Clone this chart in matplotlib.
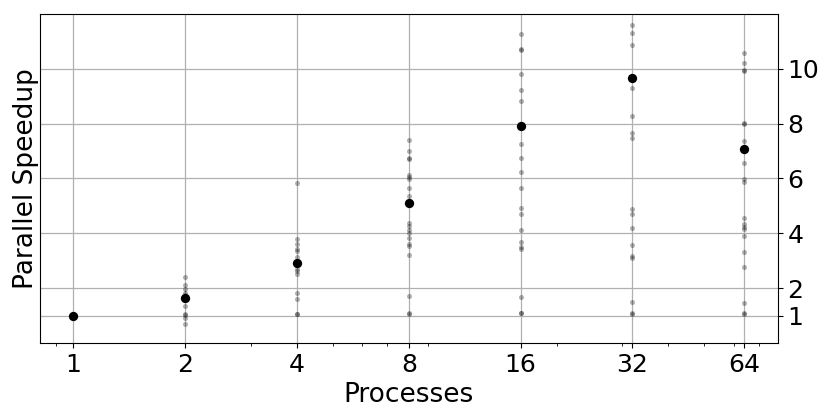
import matplotlib
matplotlib.use('Agg')
import matplotlib.pyplot as plt
from matplotlib.ticker import NullFormatter

#------------ processes and measured speedups ------------
procs = [1, 2, 4, 8, 16, 32, 64]
tick_labels = ['1', '2', '4', '8', '16', '32', '64']

runs_1 = [1.0, 1.0]
runs_2 = [2.42, 2.12, 1.96, 1.84, 1.75, 1.35, 1.08, 1.02, 0.90, 0.70]
runs_4 = [5.82, 3.78, 3.63, 3.42, 3.36, 3.15, 2.95, 2.85, 2.72, 2.62, 2.52,
          1.81, 1.62, 1.08, 1.06]
runs_8 = [7.42, 7.01, 6.76, 6.72, 6.12, 6.06, 5.98, 5.64, 5.36, 4.39, 4.26,
          4.14, 4.02, 3.82, 3.63, 3.54, 3.21, 1.72, 1.11, 1.07]
runs_16 = [11.25, 10.72, 10.67, 9.80, 9.24, 8.83, 7.27, 6.75, 6.25, 5.66, 4.94,
           4.69, 4.13, 3.69, 3.49, 3.43, 1.69, 1.11, 1.09]
runs_32 = [11.59, 11.30, 10.87, 9.28, 8.26, 7.67, 7.47, 4.90, 4.69, 4.19, 3.58,
           3.18, 3.12, 1.49, 1.09, 1.05]
runs_64 = [10.59, 10.22, 9.97, 9.91, 8.04, 8.00, 7.37, 6.55, 5.99, 5.87, 4.57,
           4.33, 4.24, 4.16, 3.89, 3.32, 2.76, 1.47, 1.085, 1.05]
runs = [runs_1, runs_2, runs_4, runs_8, runs_16, runs_32, runs_64]

speedup = [1.0, 1.655, 2.905, 5.114, 7.917, 9.677, 7.09]

yticks = [1, 2, 4, 6, 8, 10]

#------------ plot ------------
fig = plt.figure(figsize=(8.31, 4.19), dpi=100)
ax = fig.add_axes([0.048, 0.181, 0.888, 0.786])

for p, r in zip(procs, runs):
    ax.scatter([p]*len(r), r, s=13, color='k', alpha=0.3, linewidths=0, zorder=3)
ax.scatter(procs, speedup, s=45, color='k', linewidths=0, zorder=4)

ax.set_xscale('log')
ax.set_xticks(procs)
ax.set_xticklabels(tick_labels)
ax.xaxis.set_minor_formatter(NullFormatter())
ax.set_ylim(0, 12)
ax.yaxis.tick_right()
ax.set_yticks(yticks)
ax.set_yticklabels([str(t) for t in yticks])
ax.tick_params(axis='both', which='major', labelsize=18)
ax.set_xlabel('Processes', fontsize=19, labelpad=4)
ax.set_ylabel('Parallel Speedup', fontsize=19, labelpad=0.5)
ax.yaxis.set_label_position('left')
ax.grid(which='major', axis='both', color='#b0b0b0', linewidth=0.9)
ax.set_axisbelow(True)

plt.savefig('out.png', dpi=100)
